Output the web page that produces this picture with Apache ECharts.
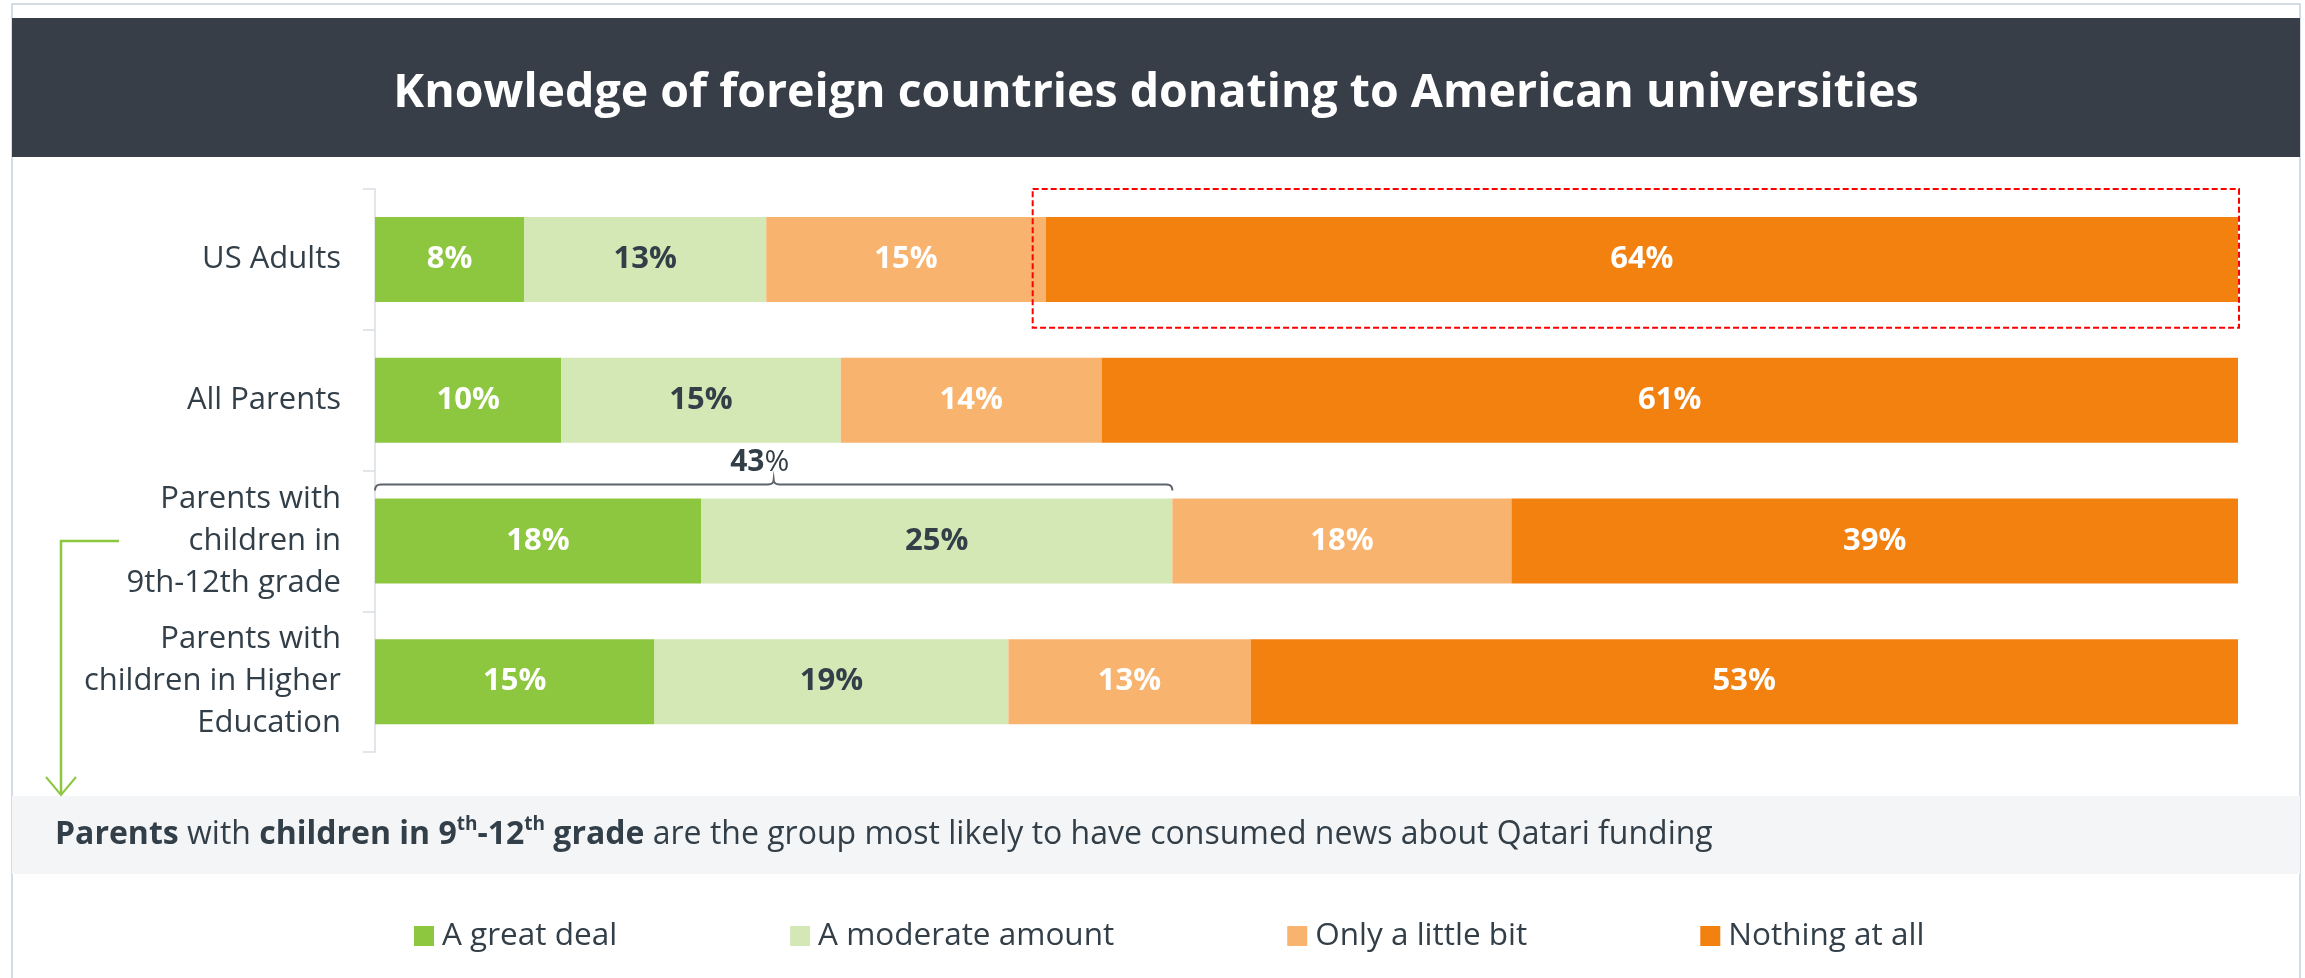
<!DOCTYPE html>
<html><head><meta charset="utf-8">
<script src="https://cdn.jsdelivr.net/npm/echarts@6/dist/echarts.min.js"></script>
<style>html,body{margin:0;padding:0;background:#fff}#c{width:2305px;height:978px}</style>
</head><body><div id="c"></div>
<script>
// ---- data ----
const titleText = 'Knowledge of foreign countries donating to American universities';
const categories = ['US Adults', 'All Parents', 'Parents with\nchildren in\n9th-12th grade', 'Parents with\nchildren in Higher\nEducation'];
const seriesNames = ['A great deal', 'A moderate amount', 'Only a little bit', 'Nothing at all'];
const greatDeal = [8, 10, 17.5, 15];
const moderate = [13, 15, 25.3, 19];
const littleBit = [15, 14, 18.2, 13];
const nothingAtAll = [64, 61, 39, 53];
const highlightRow = 0;      // dashed box around "Nothing at all" of US Adults
const bracketRow = 2;        // bracket over first two segments of 9th-12th grade

const FONT = '"Open Sans", "Noto Sans", sans-serif';
const DARK = '#333f48';
const colors = ['#8dc63f', '#d3e8b4', '#f8b46e', '#f38110'];
const labelColors = ['#ffffff', DARK, '#ffffff', '#ffffff'];
const seriesData = [greatDeal, moderate, littleBit, nothingAtAll];

const chart = echarts.init(document.getElementById('c'), null, {renderer: 'canvas'});

const option = {
  animation: false,
  backgroundColor: '#ffffff',
  textStyle: {fontFamily: FONT},
  grid: {left: 375, right: 67, top: 189, bottom: 226, containLabel: false},
  xAxis: {type: 'value', min: 0, max: 100, show: false},
  yAxis: {
    type: 'category', data: categories, inverse: true,
    axisLine: {show: true, lineStyle: {color: '#d9dee3', width: 1.5}},
    axisTick: {show: true, length: 12, lineStyle: {color: '#d9dee3', width: 1.5}},
    axisLabel: {fontSize: 31, color: DARK, lineHeight: 42, margin: 34, fontFamily: FONT, align: 'right'},
    splitLine: {show: false}
  },
  legend: {
    left: 409, top: 915, itemWidth: 20, itemHeight: 20, itemGap: 173, icon: 'rect',
    textStyle: {fontSize: 31.5, color: DARK, fontFamily: FONT, padding: [0, 0, 0, 3]},
    data: seriesNames
  },
  series: seriesNames.map((n, i) => ({
    name: n, type: 'bar', stack: 'total', barWidth: 85,
    data: seriesData[i],
    itemStyle: {color: colors[i]},
    label: {
      show: true, position: 'inside',
      formatter: p => Math.round(p.value) + '%',
      color: labelColors[i], fontSize: 31, fontWeight: 'bold', fontFamily: FONT
    }
  }))
};
chart.setOption(option);

// ---- annotations positioned through the chart's own scales ----
const px = (v, row) => chart.convertToPixel({gridIndex: 0}, [v, categories[row]]);
const rowY = r => px(0, r)[1];
const band = rowY(1) - rowY(0);

// red dashed box
const boxStart = greatDeal[highlightRow] + moderate[highlightRow] + littleBit[highlightRow];
const bx0 = px(boxStart, highlightRow)[0] - 13;
const bx1 = px(100, highlightRow)[0] + 1;
const by0 = rowY(highlightRow) - band / 2;
const by1 = rowY(highlightRow) + band / 2 - 2;

// bracket (curly brace drawn as sampled curves)
const bracketVal = greatDeal[bracketRow] + moderate[bracketRow];
const kx0 = px(0, bracketRow)[0];
const kx1 = px(bracketVal, bracketRow)[0];
const ky = rowY(bracketRow) - band / 2 + 14;
const kmid = (kx0 + kx1) / 2;
function quad(p0, p1, p2, n) {
  const out = [];
  for (let i = 0; i <= n; i++) {
    const t = i / n, u = 1 - t;
    out.push([u * u * p0[0] + 2 * u * t * p1[0] + t * t * p2[0], u * u * p0[1] + 2 * u * t * p1[1] + t * t * p2[1]]);
  }
  return out;
}
const bracketPts = [].concat(
  quad([kx0, ky + 6], [kx0, ky], [kx0 + 6, ky], 6),
  quad([kmid - 6, ky], [kmid, ky], [kmid, ky - 5], 6),
  quad([kmid, ky - 5], [kmid, ky], [kmid + 6, ky], 6),
  quad([kx1 - 6, ky], [kx1, ky], [kx1, ky + 6], 6)
);

// arrow
const ay = rowY(bracketRow);
const arrowX = 61;

chart.setOption({
  graphic: [
    {type: 'rect', z: 0, shape: {x: 12, y: 4, width: 2288, height: 990}, style: {fill: 'none', stroke: '#c7d1da', lineWidth: 1.5}},
    {type: 'rect', z: 1, shape: {x: 12, y: 18, width: 2288, height: 139}, style: {fill: '#373e47'}},
    {type: 'text', z: 2, x: 1156, y: 94, style: {text: titleText, fill: '#ffffff', fontSize: 46.5, fontWeight: 'bold', fontFamily: FONT, align: 'center', verticalAlign: 'middle', textAlign: 'center', textVerticalAlign: 'middle'}},
    {type: 'rect', z: 1, shape: {x: 12, y: 796, width: 2288, height: 78}, style: {fill: '#f4f5f7'}},
    {type: 'text', z: 2, x: 55, y: 835, style: {
      text: '{b|Parents}{n| with }{b|children in 9}{s|th}{b|-12}{s|th}{b| grade}{n| are the group most likely to have consumed news about Qatari funding}',
      verticalAlign: 'middle', textVerticalAlign: 'middle', align: 'left',
      rich: {
        b: {fontSize: 32, fontWeight: 'bold', fill: DARK, color: DARK, fontFamily: FONT, lineHeight: 40},
        n: {fontSize: 32, fill: DARK, color: DARK, fontFamily: FONT, lineHeight: 40},
        s: {fontSize: 19, fontWeight: 'bold', fill: DARK, color: DARK, fontFamily: FONT, lineHeight: 22, verticalAlign: 'top'}
      }
    }},
    {type: 'rect', z: 5, shape: {x: bx0, y: by0, width: bx1 - bx0, height: by1 - by0}, style: {fill: 'none', stroke: '#ff0000', lineWidth: 2, lineDash: [6, 3]}},
    {type: 'polyline', z: 5, shape: {points: bracketPts}, style: {fill: 'none', stroke: '#5d636a', lineWidth: 2}},
    {type: 'text', z: 5, x: kmid - 14, y: ky - 22, style: {
      text: '{b|' + Math.round(bracketVal) + '}{n|%}', align: 'center', verticalAlign: 'middle', textAlign: 'center', textVerticalAlign: 'middle',
      rich: {b: {fontSize: 30, fontWeight: 'bold', fill: DARK, color: DARK, fontFamily: FONT}, n: {fontSize: 30, fill: DARK, color: DARK, fontFamily: FONT}}
    }},
    {type: 'polyline', z: 5, shape: {points: [[119, ay], [arrowX, ay], [arrowX, 795]]}, style: {stroke: '#8dc63f', lineWidth: 2.5, fill: 'none'}},
    {type: 'polyline', z: 5, shape: {points: [[arrowX - 15, 777], [arrowX, 795], [arrowX + 15, 777]]}, style: {stroke: '#8dc63f', lineWidth: 2, fill: 'none'}}
  ]
});
</script></body></html>
